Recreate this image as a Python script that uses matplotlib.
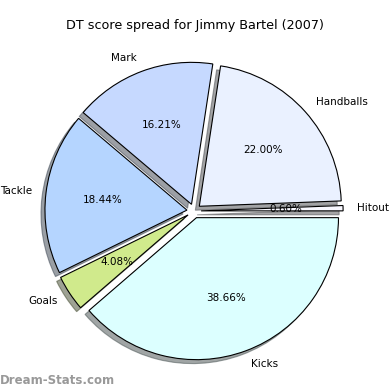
import matplotlib
matplotlib.use("Agg")
import matplotlib.pyplot as plt

labels = ["Hitout", "Handballs", "Mark", "Tackle", "Goals", "Kicks"]
values = [0.60, 22.00, 16.21, 18.44, 4.08, 38.66]
colors = ["#f8f8ff", "#eaf1ff", "#c6d9ff", "#b5d5ff", "#d0ea8c", "#dcffff"]
explode = [0.05] * len(values)

fig = plt.figure(figsize=(3.9, 3.9), dpi=100)
ax = fig.add_axes([0, 0, 1, 1])
cx, cy, r = 194, 211, 142
ax.pie(values, labels=labels, colors=colors, explode=explode, autopct="%1.2f%%",
       shadow=True, startangle=0, counterclock=True,
       wedgeprops=dict(edgecolor="black", linewidth=0.8),
       textprops=dict(fontsize=7.5))
ax.set_xlim(-cx / r, (390 - cx) / r)
ax.set_ylim(-(390 - cy) / r, cy / r)
ax.set_aspect("auto")
ax.axis("off")
fig.text(0.5, 1 - 25 / 390, "DT score spread for Jimmy Bartel (2007)", ha="center", va="center", fontsize=9.2)
fig.text(0.0, 1 - 380 / 390, "Dream-Stats.com", ha="left", va="center", fontsize=8.5,
         color="#999999", fontweight="bold")
fig.savefig("out.png", dpi=100)
